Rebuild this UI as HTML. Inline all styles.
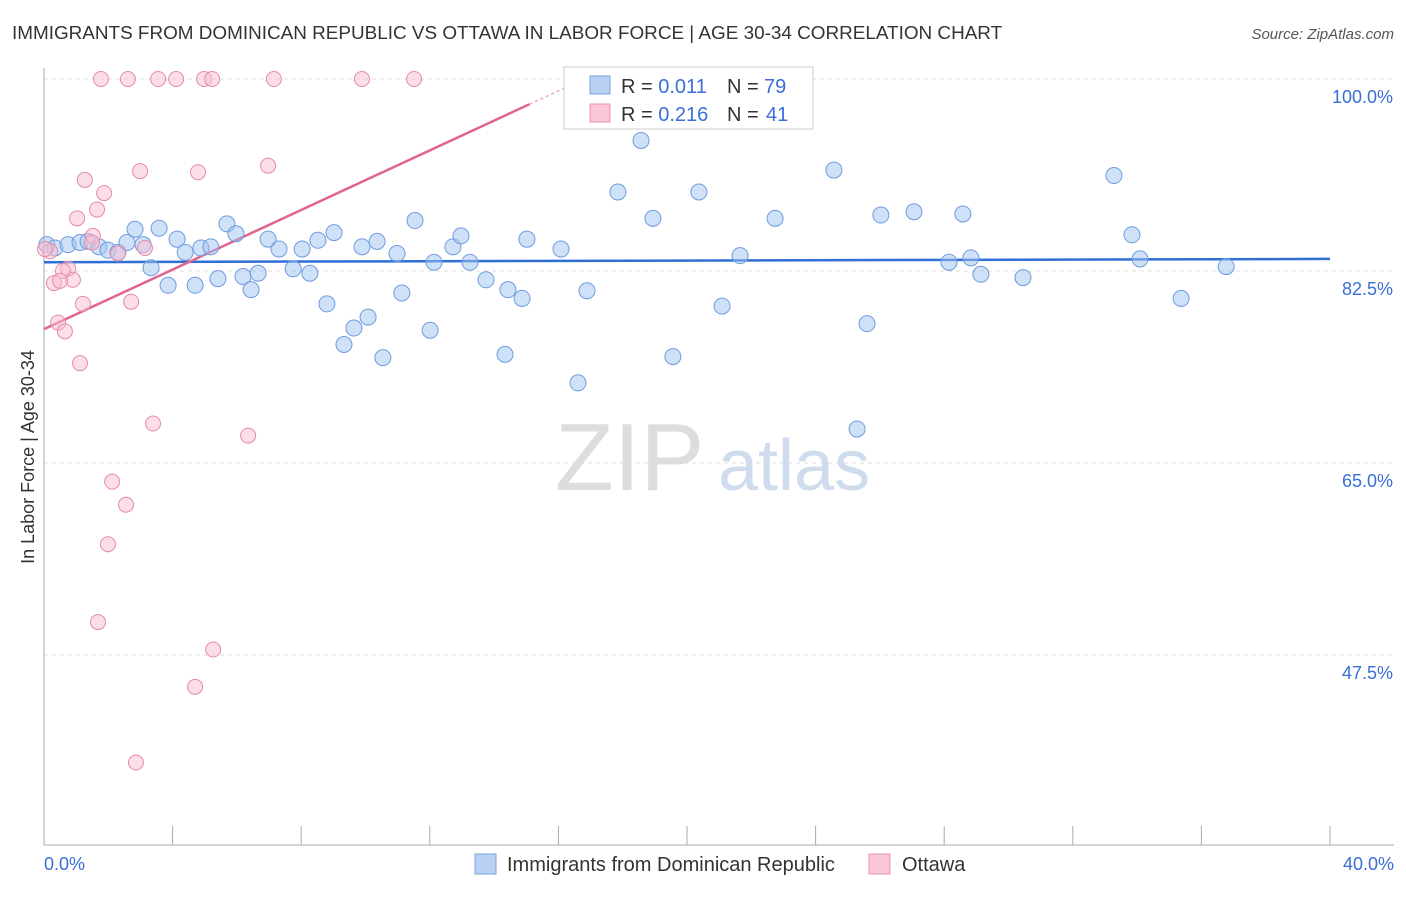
<!DOCTYPE html>
<html><head><meta charset="utf-8"><style>
body{margin:0;background:#fff;font-family:"Liberation Sans",sans-serif}
svg text{font-family:"Liberation Sans",sans-serif}
</style></head><body>
<svg id="chart" width="1406" height="892" viewBox="0 0 1406 892" xmlns="http://www.w3.org/2000/svg">
<text x="12" y="39" font-size="18.9" fill="#333">IMMIGRANTS FROM DOMINICAN REPUBLIC VS OTTAWA IN LABOR FORCE | AGE 30-34 CORRELATION CHART</text>
<text x="1394" y="39" font-size="15" fill="#555" text-anchor="end" font-style="italic">Source: ZipAtlas.com</text>
<text x="555" y="490" font-size="96" fill="#ddd" font-family="Liberation Serif">ZIP</text>
<text x="718" y="490" font-size="72" fill="#cfdcee">atlas</text>
<text transform="translate(34,457) rotate(-90)" font-size="18" fill="#333" text-anchor="middle">In Labor Force | Age 30-34</text>
<g id="grid"></g><g id="axes"></g><g id="trends"></g><g id="points"></g>
<g>
<rect x="564" y="67" width="249" height="62" fill="#fff" stroke="#ccc"/>
<rect x="590" y="76" width="20" height="18" fill="#b7d0f3" stroke="#7aa3e0"/>
<text x="621" y="93" font-size="20" fill="#333" xml:space="preserve">R = <tspan fill="#3a6fd8">0.011</tspan><tspan x="727">N = </tspan><tspan fill="#3a6fd8" x="764">79</tspan></text>
<rect x="590" y="104" width="20" height="18" fill="#f8c6d6" stroke="#e891ae"/>
<text x="621" y="121" font-size="20" fill="#333" xml:space="preserve">R = <tspan fill="#3a6fd8">0.216</tspan><tspan x="727">N = </tspan><tspan fill="#3a6fd8" x="766">41</tspan></text>
</g>
<g>
<rect x="475" y="854" width="21" height="20" fill="#b7d0f3" stroke="#7aa3e0"/>
<text x="507" y="871" font-size="20" fill="#333">Immigrants from Dominican Republic</text>
<rect x="869" y="854" width="21" height="20" fill="#f8c6d6" stroke="#e891ae"/>
<text x="902" y="871" font-size="20" fill="#333">Ottawa</text>
</g>
</svg>
<script>
const yTicks=[100,82.5,65,47.5];
const yTickLabels=["100.0%","82.5%","65.0%","47.5%"];
const xTickLabels=["0.0%","40.0%"];
const blueX=[0.09,0.34,0.75,1.12,1.37,1.71,1.99,2.3,2.58,2.83,3.08,3.33,3.58,3.86,4.14,4.39,4.7,4.88,5.19,5.41,5.69,5.97,6.19,6.44,6.66,6.97,7.31,7.75,8.03,8.27,8.52,8.8,9.02,9.33,9.64,9.89,10.08,10.36,10.54,10.98,11.13,11.54,12.01,12.13,12.72,12.97,13.25,13.75,14.34,14.43,14.87,15.02,16.08,16.61,16.89,17.85,18.57,18.94,19.56,20.37,21.09,21.65,22.74,24.57,25.29,25.6,26.03,27.06,28.15,28.58,28.83,29.14,30.45,33.28,33.84,34.09,35.37,36.77];
const blueY=[84.9,84.6,84.9,85.1,85.2,84.7,84.4,84.2,85.1,86.3,84.9,82.8,86.4,81.2,85.4,84.2,81.2,84.6,84.7,81.8,86.8,85.9,82.0,80.8,82.3,85.4,84.5,82.7,84.5,82.3,85.3,79.5,86.0,75.8,77.3,84.7,78.3,85.2,74.6,84.1,80.5,87.1,77.1,83.3,84.7,85.7,83.3,81.7,74.9,80.8,80.0,85.4,84.5,72.3,80.7,89.7,94.4,87.3,74.7,89.7,79.3,83.9,87.3,91.7,68.1,77.7,87.6,87.9,83.3,87.7,83.7,82.2,81.9,91.2,85.8,83.6,80.0,82.9];
const pinkX=[1.77,2.61,3.55,4.11,4.98,5.23,7.15,9.89,11.51,1.27,1.87,2.99,4.79,6.97,1.65,1.03,1.52,3.14,2.3,0.19,0.75,0.59,0.9,0.31,0.5,1.21,2.71,0.44,0.65,1.12,3.39,6.35,2.12,2.55,1.99,1.68,5.26,4.7,2.86,1.49,0.03];
const pinkY=[100,100,100,100,100,100,100,100,100,90.8,89.6,91.6,91.5,92.1,88.1,87.3,85.7,84.6,84.1,84.3,82.7,82.5,81.7,81.4,81.6,79.5,79.7,77.8,77.0,74.1,68.6,67.5,63.3,61.2,57.6,50.5,48.0,44.6,37.7,85.1,84.5];
const blueTrend=[83.3,83.6];
const pinkTrend=[77.2,97.7];
const pinkTrendX2=15.1;
const NS="http://www.w3.org/2000/svg";
const X0=44,X1=1330,Y100=79,YPX=192/17.5;
const xs=v=>X0+(v/40)*(X1-X0);
const ys=v=>Y100+(100-v)*YPX;
function mk(tag,attrs,parent){const e=document.createElementNS(NS,tag);for(const k in attrs)e.setAttribute(k,attrs[k]);document.getElementById(parent).appendChild(e);return e;}
yTicks.forEach((t,i)=>{
 const l=mk('line',{x1:44,x2:1394,y1:ys(t),y2:ys(t),stroke:'#ddd','stroke-dasharray':'4,4'},'grid');
 
 
 const tx=mk('text',{x:1393,y:ys(t)+24,'font-size':18,fill:'#3a6fd8','text-anchor':'end'},'grid');
 tx.textContent=yTickLabels[i];
 
 
});
const ax=mk('line',{x1:44,x2:1394,y1:845,y2:845,stroke:'#aaa'},'axes');


const ay=mk('line',{x1:44,x2:44,y1:68,y2:845,stroke:'#aaa'},'axes');


for(let i=0;i<=10;i++){const t=mk('line',{x1:xs(i*4),x2:xs(i*4),y1:826,y2:845,stroke:'#aaa'},'axes');
 
 }
[[0,44,'start'],[1,1394,'end']].forEach(([i,x,a])=>{const t=mk('text',{x:x,y:870,'font-size':18,fill:'#3a6fd8','text-anchor':a},'axes');t.textContent=xTickLabels[i];
 
 });
blueX.forEach((v,i)=>{const c=mk('circle',{cx:xs(v),cy:ys(blueY[i]),r:8,fill:'rgba(160,195,240,0.5)',stroke:'#6f9be0','stroke-width':1},'points');
 
 });
pinkX.forEach((v,i)=>{const c=mk('circle',{cx:xs(v),cy:ys(pinkY[i]),r:7.5,fill:'rgba(248,190,210,0.5)',stroke:'#e58aaa','stroke-width':1},'points');
 
 });
const bt=mk('line',{x1:xs(0),x2:xs(40),y1:ys(blueTrend[0]),y2:ys(blueTrend[1]),stroke:'#2f6fd6','stroke-width':2.5},'trends');


const pt=mk('line',{x1:xs(0),x2:xs(pinkTrendX2),y1:ys(pinkTrend[0]),y2:ys(pinkTrend[1]),stroke:'#e2648e','stroke-width':2.5},'trends');


const slope=(pinkTrend[1]-pinkTrend[0])/pinkTrendX2;
const pd=mk('line',{x1:xs(pinkTrendX2),x2:xs(16.6),y1:ys(pinkTrend[1]),y2:ys(pinkTrend[0]+slope*16.6),stroke:'#f0a8c0','stroke-width':1.5,'stroke-dasharray':'3,3'},'trends');


</script>
</body></html>
